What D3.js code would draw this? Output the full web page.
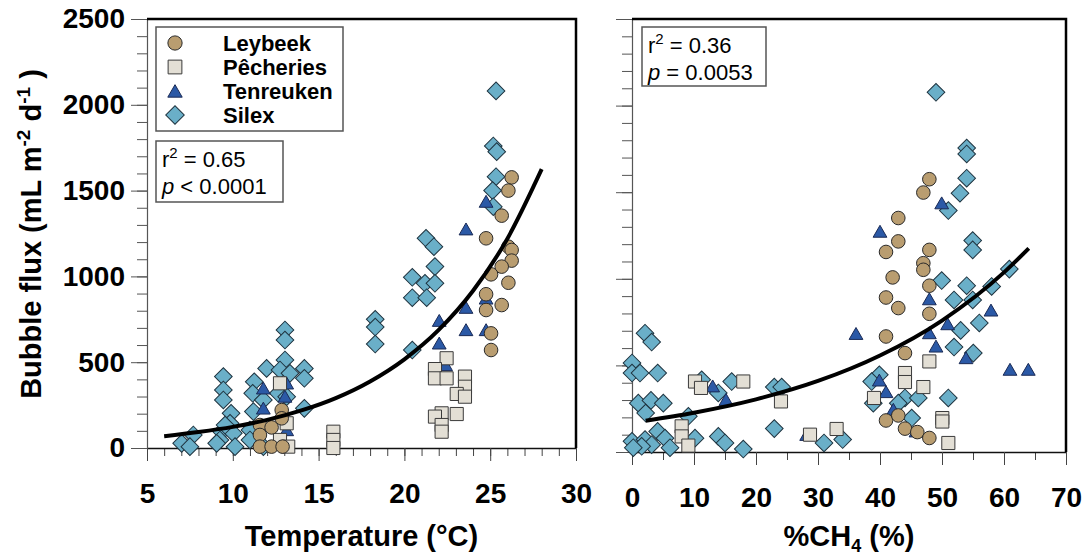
<!DOCTYPE html>
<html>
<head>
<meta charset="utf-8">
<script src="https://cdn.jsdelivr.net/npm/d3@7"></script>
<style>
	body { margin: 0; background: #fff; }
	svg { display: block; font-family: "Liberation Sans", Arial, Helvetica, sans-serif; }
</style>
</head>
<body>
<svg id="chart" width="1086" height="558"></svg>
<script>
// sites, in legend order
const sites = ['Leybeek', 'Pêcheries', 'Tenreuken', 'Silex'];

// [temperature °C, bubble flux]
const leybeekTemp = [[26.25,1577],[26.06,1500],[25.67,1354],[24.76,1222],[26.06,1173],[26.25,1154],[26.25,1092],[25.67,1057],[25.05,1012],[26.06,963],[24.76,896],[24.76,804],[25.67,833],[25.05,668],[25.05,571],[12.85,221],[12.85,173],[11.58,134],[12.26,120],[11.58,76],[11.58,8],[12.26,8],[12.9,8]];
const pecheriesTemp = [[22.46,523],[21.78,460],[21.78,406],[22.46,406],[23.53,416],[23.53,357],[23.05,315],[23.53,299],[23.05,198],[22.17,202],[21.78,183],[22.17,134],[22.17,95],[12.75,377],[13.14,144],[12.75,47],[13.23,8],[15.86,95],[15.86,47],[15.86,0]];
const tenreukenTemp = [[24.76,1426],[23.59,1265],[22.03,732],[23.59,808],[23.59,678],[24.76,678],[24.76,862],[22.03,600],[22.4,474],[11.78,338],[13.04,290],[11.78,221],[13.14,367],[13.14,95]];
const silexTemp = [[25.34,2081],[25.18,1760],[25.38,1727],[25.34,1581],[25.14,1500],[25.18,1406],[21.26,1222],[21.72,1173],[21.78,1057],[20.46,995],[21.2,960],[21.78,960],[20.46,876],[21.3,876],[20.46,571],[18.3,750],[18.3,705],[18.3,606],[13.04,688],[13.04,629],[13.04,513],[11.97,464],[12.75,455],[13.33,435],[14.17,464],[14.17,406],[9.45,416],[9.45,338],[9.45,280],[11.25,386],[11.16,319],[11.78,280],[12.65,319],[13.14,299],[9.9,202],[9.84,144],[11.2,212],[11.0,105],[14.17,231],[7.7,76],[7.02,27],[7.5,8],[9.35,95],[9.25,47],[10.03,86],[10.13,8],[9.06,27],[11.0,47],[11.78,8],[9.55,134]];

// [%CH4, bubble flux]
const leybeekCH4 = [[47.96,1575],[46.99,1498],[42.95,1351],[42.95,1216],[40.97,1155],[47.96,1167],[46.99,1090],[46.99,1052],[42.04,1008],[47.96,960],[40.97,892],[42.95,831],[47.96,798],[40.97,667],[44.03,571],[40.97,182],[42.95,211],[44.03,135],[46.02,115],[47.96,81]];
const pecheriesCH4 = [[47.96,523],[44.03,456],[44.03,404],[46.99,375],[39.03,312],[50.05,196],[50.05,176],[51.02,52],[33.0,133],[10.16,407],[11.13,370],[17.95,407],[24.03,292],[8.01,148],[8.01,90],[9.09,37],[28.71,100]];
const tenreukenCH4 = [[49.95,1427],[40.0,1263],[47.96,873],[57.9,808],[36.13,673],[47.96,677],[50.91,729],[49.03,600],[53.87,533],[60.97,466],[63.92,466],[39.89,404],[40.97,337],[42.15,235],[45.8,110],[13.01,370],[15.16,292],[28.17,90]];
const silexCH4 = [[49.03,2077],[53.98,1755],[53.98,1721],[53.98,1581],[52.9,1494],[51.02,1394],[54.95,1221],[54.95,1167],[60.86,1056],[49.95,990],[53.98,960],[58.01,956],[51.94,878],[54.95,878],[56.02,745],[53.01,702],[51.94,606],[55.05,571],[39.89,446],[38.66,407],[44.03,312],[46.18,312],[51.02,312],[38.92,282],[42.95,282],[45.11,196],[33.98,72],[2.1,686],[3.17,635],[0,514],[0,456],[1.29,456],[4.14,456],[1.02,282],[3.06,298],[5.05,282],[2.2,225],[9.09,206],[11.24,417],[13.92,341],[16.08,407],[22.95,375],[24.14,375],[22.95,135],[4.14,119],[5.32,80],[0,62],[2.1,72],[3.17,42],[1.56,33],[0.21,25],[6.13,25],[10.16,80],[13.92,90],[15.0,52],[17.95,17],[30.97,52]];

// exponential fit curves
const tempFitX = [6, 8, 10, 12, 14, 16, 18, 20, 22, 24, 26, 28];
const tempFitFlux = [69, 93, 123, 164, 219, 291, 388, 517, 688, 916, 1220, 1625];
const ch4FitX = [2.2, 10, 20, 30, 40, 50, 60, 64];
const ch4FitFlux = [181, 227, 304, 410, 557, 759, 1037, 1176];

const tempTicks = [5, 10, 15, 20, 25, 30];
const ch4Ticks = [0, 10, 20, 30, 40, 50, 60, 70];
const fluxTicks = [0, 500, 1000, 1500, 2000, 2500];

const siteColors = ['#b99d70', '#e3dfd5', '#2b59a6', '#6aafc8'];
const siteStrokes = ['#2a2a2a', '#3a3a3a', '#1a2a55', '#1f3440'];
const siteShapes = [d3.symbolCircle, d3.symbolSquare, d3.symbolTriangle, d3.symbolSquare];
const siteSizes = [145, 172, 82, 156];
const siteRotate = [0, 0, 0, 45];
// drawing order: Silex first, Leybeek on top
const drawOrder = [3, 2, 1, 0];

const svg = d3.select('#chart');

function marker(g, pts, i, x, y) {
	g.append('g')
		.selectAll('path')
		.data(pts)
		.join('path')
		.attr('d', d3.symbol().type(siteShapes[i]).size(siteSizes[i]))
		.attr('transform', d => `translate(${x(d[0])},${y(d[1])}) rotate(${siteRotate[i]})`)
		.attr('fill', siteColors[i])
		.attr('stroke', siteStrokes[i])
		.attr('stroke-width', 1);
}

function drawPanel(cfg) {
	const x = d3.scaleLinear().domain(cfg.xDomain).range([cfg.left, cfg.right]);
	const y = d3.scaleLinear().domain([0, 2500]).range([cfg.bottom, 19]);
	const g = svg.append('g');

	// minor ticks
	g.append('g')
		.attr('transform', `translate(0,${cfg.bottom})`)
		.call(d3.axisBottom(x).tickValues(d3.range(cfg.xDomain[0], cfg.xDomain[1] + 0.01, cfg.xMinor)).tickSize(8).tickSizeOuter(0).tickFormat(''))
		.call(a => a.select('.domain').remove())
		.call(a => a.selectAll('line').attr('stroke', '#444'));
	g.append('g')
		.attr('transform', `translate(${cfg.left},0)`)
		.call(d3.axisLeft(y).tickValues(d3.range(0, 2501, 100)).tickSize(10).tickSizeOuter(0).tickFormat(''))
		.call(a => a.select('.domain').remove())
		.call(a => a.selectAll('line').attr('stroke', '#555'));

	// major ticks + labels
	const xa = g.append('g')
		.attr('transform', `translate(0,${cfg.bottom})`)
		.call(d3.axisBottom(x).tickValues(cfg.xTicks).tickSize(13).tickSizeOuter(0).tickPadding(22));
	xa.select('.domain').attr('stroke', '#111').attr('stroke-width', 1.6);
	xa.selectAll('line').attr('stroke', '#444');
	xa.selectAll('text').attr('font-size', 28).attr('font-weight', 'bold').attr('fill', '#000')
		.attr('font-family', '"Liberation Sans", Arial, sans-serif');

	const ya = g.append('g')
		.attr('transform', `translate(${cfg.left},0)`)
		.call(d3.axisLeft(y).tickValues(fluxTicks).tickSize(16).tickSizeOuter(0).tickPadding(6)
			.tickFormat(cfg.yLabels ? d3.format('d') : ''));
	ya.select('.domain').attr('stroke', '#555').attr('stroke-width', 1.2);
	ya.selectAll('line').attr('stroke', '#555');
	ya.selectAll('text').attr('font-size', 28).attr('font-weight', 'bold').attr('fill', '#000')
		.attr('font-family', '"Liberation Sans", Arial, sans-serif');

	// frame top / right
	g.append('path')
		.attr('d', `M${cfg.left},19H${cfg.right}V${cfg.bottom}`)
		.attr('fill', 'none')
		.attr('stroke', '#000')
		.attr('stroke-width', 2.5);

	// points
	drawOrder.forEach(i => marker(g, cfg.series[i], i, x, y));

	// fit curve
	const line = d3.line().x(d => x(d[0])).y(d => y(d[1])).curve(d3.curveMonotoneX);
	g.append('path')
		.datum(cfg.fitX.map((v, k) => [v, cfg.fitY[k]]))
		.attr('d', line)
		.attr('fill', 'none')
		.attr('stroke', '#000')
		.attr('stroke-width', 4);

	// stats box
	const sb = cfg.stats;
	g.append('rect')
		.attr('x', sb.x).attr('y', sb.y).attr('width', sb.w).attr('height', sb.h)
		.attr('fill', '#fff').attr('stroke', '#555').attr('stroke-width', 1.5);
	const t1 = g.append('text').attr('x', sb.x + 6).attr('y', sb.y + 26).attr('font-size', 22);
	t1.append('tspan').text('r');
	t1.append('tspan').attr('dy', -9).attr('font-size', 15).text('2');
	t1.append('tspan').attr('dy', 9).text(' = ' + sb.r2);
	const t2 = g.append('text').attr('x', sb.x + 6).attr('y', sb.y + 53).attr('font-size', 22);
	t2.append('tspan').attr('font-style', 'italic').text('p');
	t2.append('tspan').text(' ' + sb.p);

	// x title
	const xt = g.append('text')
		.attr('x', (cfg.left + cfg.right) / 2)
		.attr('y', cfg.titleY)
		.attr('text-anchor', 'middle')
		.attr('font-size', 29)
		.attr('font-weight', 'bold');
	cfg.title.forEach(p => {
		const s = xt.append('tspan').text(p.t);
		if (p.sub) s.attr('font-size', 18).attr('dy', 6);
		if (p.back) s.attr('dy', -6);
	});
	return { x, y };
}

drawPanel({
	left: 147, right: 576, bottom: 448,
	xDomain: [5, 30], xTicks: tempTicks, xMinor: 1,
	yLabels: true,
	series: [leybeekTemp, pecheriesTemp, tenreukenTemp, silexTemp],
	fitX: tempFitX, fitY: tempFitFlux,
	stats: { x: 156, y: 141, w: 127, h: 61, r2: '0.65', p: '< 0.0001' },
	titleY: 546,
	title: [{ t: 'Temperature (°C)' }]
});

drawPanel({
	left: 632, right: 1066, bottom: 452,
	xDomain: [0, 70], xTicks: ch4Ticks, xMinor: 5,
	yLabels: false,
	series: [leybeekCH4, pecheriesCH4, tenreukenCH4, silexCH4],
	fitX: ch4FitX, fitY: ch4FitFlux,
	stats: { x: 642, y: 27, w: 124, h: 59, r2: '0.36', p: '= 0.0053' },
	titleY: 546,
	title: [{ t: '%CH' }, { t: '4', sub: true }, { t: ' (%)', back: true }]
});

// y title
const yt = svg.append('text')
	.attr('transform', 'translate(41,234) rotate(-90)')
	.attr('text-anchor', 'middle')
	.attr('font-size', 29)
	.attr('font-weight', 'bold');
yt.append('tspan').text('Bubble flux (mL m');
yt.append('tspan').attr('dy', -11).attr('font-size', 19).text('-2');
yt.append('tspan').attr('dy', 11).text(' d');
yt.append('tspan').attr('dy', -11).attr('font-size', 19).text('-1');
yt.append('tspan').attr('dy', 11).text(' )');

// legend
const lg = svg.append('g');
lg.append('rect')
	.attr('x', 156).attr('y', 27).attr('width', 187).attr('height', 104)
	.attr('fill', '#fff').attr('stroke', '#555').attr('stroke-width', 1.5);
sites.forEach((s, i) => {
	const cy = 43 + i * 24;
	lg.append('path')
		.attr('d', d3.symbol().type(siteShapes[i]).size(siteSizes[i] * 1.1))
		.attr('transform', `translate(175,${i === 2 ? cy + 2 : cy}) rotate(${siteRotate[i]})`)
		.attr('fill', siteColors[i])
		.attr('stroke', siteStrokes[i]);
	lg.append('text')
		.attr('x', 223).attr('y', cy).attr('dy', '0.36em')
		.attr('font-size', 22).attr('font-weight', 'bold')
		.text(s);
});
</script>
</body>
</html>
